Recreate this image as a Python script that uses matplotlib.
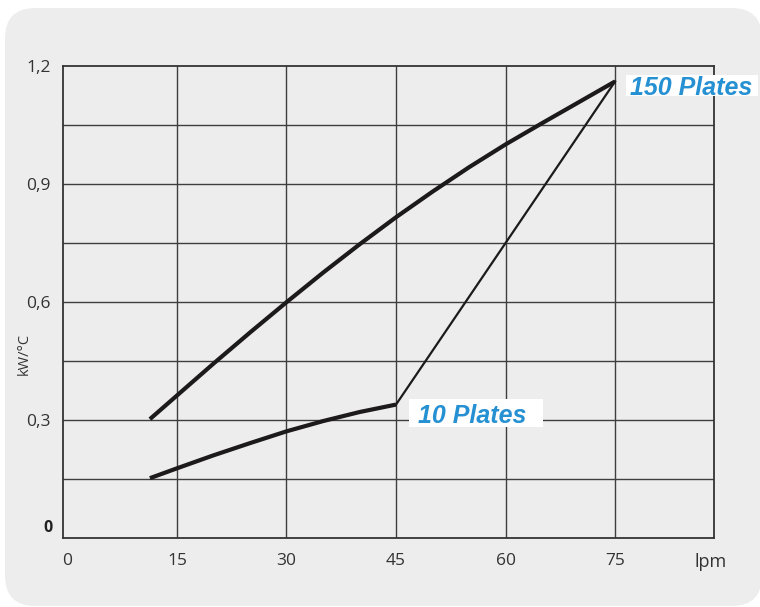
import matplotlib
matplotlib.use("Agg")
import matplotlib.pyplot as plt
from matplotlib.patches import FancyBboxPatch, Rectangle

# ---- data ----
x_150 = [11.3, 15, 20, 25, 30, 35, 40, 45, 50, 55, 60, 65, 70, 75]
y_150 = [0.302, 0.362, 0.443, 0.522, 0.599, 0.674, 0.746, 0.815, 0.880, 0.942, 1.000, 1.054, 1.107, 1.160]
x_10 = [11.3, 15, 20, 25, 30, 35, 40, 45]
y_10 = [0.152, 0.177, 0.210, 0.241, 0.271, 0.297, 0.320, 0.339]
x_link = [45, 75]
y_link = [0.339, 1.160]
x_ticks = [0, 15, 30, 45, 60, 75]
x_ticklabels = ["0", "15", "30", "45", "60", "75"]
y_ticks = [0.3, 0.6, 0.9, 1.2]
y_ticklabels = ["0,3", "0,6", "0,9", "1,2"]
x_grid = [15, 30, 45, 60, 75]
y_grid = [0.15, 0.3, 0.45, 0.6, 0.75, 0.9, 1.05]
x_unit = "lpm"
y_unit = "kW/°C"
label_150 = "150 Plates"
label_10 = "10 Plates"

W, H = 760, 607
fig = plt.figure(figsize=(W / 100, H / 100), dpi=100)
fig.patch.set_facecolor("white")

# rounded light-gray panel
panel = FancyBboxPatch((5 / W, 1 - 606 / H), (757 / W), (598 / H),
                       boxstyle="round,pad=0,rounding_size=0.04",
                       transform=fig.transFigure, facecolor="#ededed",
                       edgecolor="none", zorder=-10, mutation_aspect=W / H)
fig.patches.append(panel)

left, right, top, bottom = 63 / W, 713.7 / W, 1 - 65.7 / H, 1 - 538 / H
ax = fig.add_axes([left, bottom, right - left, top - bottom])
ax.set_zorder(1)
ax.set_facecolor("#ededed")
ax.set_xlim(-0.6, 88.5)
ax.set_ylim(0, 1.2)

gc = "#3e3e3e"
for gx in x_grid:
    ax.axvline(gx, color=gc, lw=1.0, zorder=1)
for gy in y_grid:
    ax.axhline(gy, color=gc, lw=1.0, zorder=1)
for s in ax.spines.values():
    s.set_color("#333333")
    s.set_linewidth(1.3)

lc = "#1c1a1a"
ax.plot(x_150, y_150, color=lc, lw=3.0, solid_capstyle="butt",
        solid_joinstyle="round", zorder=3)
ax.plot(x_10, y_10, color=lc, lw=3.0, solid_capstyle="butt",
        solid_joinstyle="round", zorder=3)
ax.plot(x_link, y_link, color=lc, lw=1.6, zorder=3)

ax.set_xticks(x_ticks)
ax.set_xticklabels(x_ticklabels)
ax.set_yticks(y_ticks)
ax.set_yticklabels(y_ticklabels)
ax.tick_params(length=0, colors="#333333", labelsize=12.5)
ax.tick_params(axis="x", pad=11)
ax.tick_params(axis="y", pad=9)
for t in ax.get_xticklabels() + ax.get_yticklabels():
    t.set_fontfamily("Open Sans")

ax.text(-0.6 - 1.45, 0.005, "0", ha="right", va="bottom", fontsize=11.5,
        fontweight="bold", family="Open Sans", color="#222222", clip_on=False)
ax.annotate(x_unit, xy=(88.1, 0), xytext=(0, -11), textcoords="offset points",
            ha="center", va="top", fontsize=13, family="Open Sans",
            color="#333333", annotation_clip=False)
fig.text(24 / W, 1 - 354 / H, y_unit, rotation=90, ha="center", va="center",
         fontsize=10.5, family="Open Sans", color="#333333")

blue = "#2590d2"
ax.add_patch(Rectangle((76.5, 1.122), 18.0, 0.055, facecolor="white",
                       edgecolor="none", clip_on=False, zorder=4))
ax.text(77.0, 1.1264, label_150, ha="left", va="baseline", fontsize=18,
        fontweight="bold", style="italic", family="Liberation Sans",
        color=blue, zorder=5, clip_on=False)
ax.add_patch(Rectangle((46.8, 0.283), 18.3, 0.0705, facecolor="white",
                       edgecolor="none", zorder=4))
ax.text(48.0, 0.2916, label_10, ha="left", va="baseline", fontsize=18,
        fontweight="bold", style="italic", family="Liberation Sans",
        color=blue, zorder=5)

fig.savefig("out.png", dpi=100)
